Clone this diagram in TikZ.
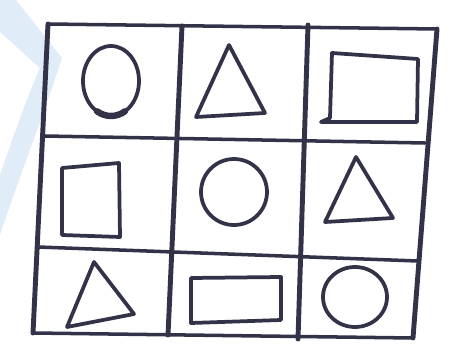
\documentclass[tikz,border=0pt]{standalone}
\usetikzlibrary{positioning}
\definecolor{ink}{RGB}{50,50,72}
\definecolor{wmblue}{RGB}{224,236,247}

\begin{document}
\begin{tikzpicture}[x=0.03cm, y=-0.03cm,
		vline/.style={draw=ink, line width=4.2pt, line cap=round},
		hline/.style={draw=ink, line width=3pt, line cap=round},
		figure/.style={draw=ink, line width=3.2pt, line join=round, line cap=round}]
		
		\useasboundingbox (0,0) rectangle (462,360);
		
		% Wasserzeichen
		\fill[wmblue] (0,0) -- (16,0) -- (62,58) .. controls (42,120) and (18,180) .. (0,235)
			-- (0,175) .. controls (12,140) and (26,100) .. (40,68) -- (0,32) -- cycle;
		
		% Gitterpunkte
		\coordinate (tl) at (48,24);
		\coordinate (tr) at (437,29);
		\coordinate (bl) at (33,333);
		\coordinate (br) at (413,338);
		\coordinate (v1t) at (182,26);
		\coordinate (v1b) at (168,335);
		\coordinate (v2t) at (308,25);
		\coordinate (v2b) at (298,339);
		\coordinate (h1l) at (45,136);
		\coordinate (h1r) at (425,143);
		\coordinate (h2l) at (38,247);
		\coordinate (h2r) at (418,261);
		
		% Rahmen
		\draw[hline] (tl) -- (tr);
		\draw[hline] (bl) -- (br);
		\draw[vline] (tl) -- (bl);
		\draw[vline] (tr) -- (br);
		
		% Innere Linien
		\draw[vline] (v1t) -- (v1b);
		\draw[vline] (v2t) -- (v2b);
		\draw[hline] (h1l) -- (h1r);
		\draw[hline] (h2l) -- (h2r);
		
		% Zeile 1
		\draw[figure] (111,81) ellipse [x radius=28, y radius=35];
		\draw[figure, line width=5.5pt] (125,111.3) arc [start angle=60, end angle=120, x radius=28, y radius=35];
		\draw[figure] (229,45) -- (196,117) -- (265,113) -- cycle;
		\draw[figure] (332,53) -- (418,59) -- (417,122) -- (321,122) -- (330,118) -- cycle;
		
		% Zeile 2
		\draw[figure] (62,168) -- (119,163) -- (120,237) -- (62,235) -- cycle;
		\draw[figure] (234,192) ellipse [x radius=33, y radius=33];
		\draw[figure] (356,157) -- (325,222) -- (393,218) -- cycle;
		
		% Zeile 3
		\draw[figure] (94,262) -- (67,327) -- (134,314) -- cycle;
		\draw[figure] (191,278) -- (281,277) -- (281,320) -- (191,323) -- cycle;
		\draw[figure] (355,297) ellipse [x radius=32, y radius=30];
		
	\end{tikzpicture}
\end{document}
